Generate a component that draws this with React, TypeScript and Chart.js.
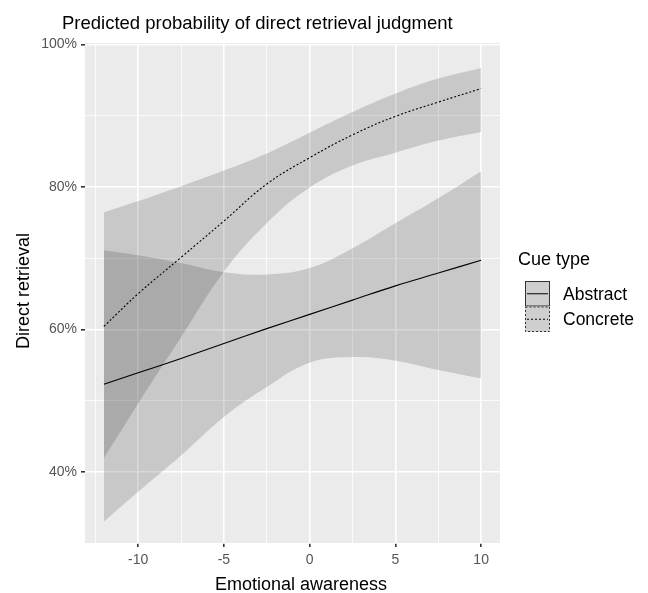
import { useEffect, useRef } from "react";
import { Chart, registerables } from "chart.js";

Chart.register(...registerables);

// ---- data (percent) ----
const X_VALUES = [-12, -10, -7.5, -5, -2.5, 0, 2.5, 5, 7.5, 10];
const ABSTRACT_FIT = [52.3, 53.9, 55.9, 58.0, 60.1, 62.1, 64.1, 66.1, 67.9, 69.7];
const ABSTRACT_UPPER = [71.1, 70.4, 69.3, 68.0, 67.7, 68.6, 71.4, 74.9, 78.4, 82.2];
const ABSTRACT_LOWER = [33.0, 37.2, 42.3, 47.7, 51.9, 55.3, 56.1, 55.6, 54.3, 53.1];
const CONCRETE_FIT = [60.4, 65.0, 70.1, 75.2, 80.4, 84.1, 87.3, 89.9, 91.9, 93.8];
const CONCRETE_UPPER = [76.4, 78.0, 80.1, 82.3, 84.7, 87.6, 90.5, 93.1, 95.2, 96.7];
const CONCRETE_LOWER = [41.9, 49.6, 58.9, 68.1, 74.9, 79.9, 83.0, 84.8, 86.5, 87.7];

const X_TICKS = [-12.5, -10, -7.5, -5, -2.5, 0, 2.5, 5, 7.5, 10];
const X_MAJOR = [-10, -5, 0, 5, 10];
const Y_TICKS = [30, 40, 50, 60, 70, 80, 90, 100];
const Y_MAJOR = [40, 60, 80, 100];

const TITLE = "Predicted probability of direct retrieval judgment";
const X_TITLE = "Emotional awareness";
const Y_TITLE = "Direct retrieval";
const LEGEND_TITLE = "Cue type";
const SERIES_NAMES = ["Abstract", "Concrete"];

const FONT = "'Liberation Sans', Arial, sans-serif";
const RIBBON = "rgba(0,0,0,0.15)";

const pts = (ys: number[]) => X_VALUES.map((x, i) => ({ x, y: ys[i] }));

const decorPlugin = {
  id: "decor",
  beforeDraw(chart: any) {
    const { ctx, chartArea: a } = chart;
    ctx.save();
    ctx.fillStyle = "#EBEBEB";
    ctx.fillRect(a.left, a.top, a.right - a.left, a.bottom - a.top);
    ctx.restore();
  },
  afterDraw(chart: any) {
    const { ctx } = chart;
    ctx.save();
    // title
    ctx.fillStyle = "#000";
    ctx.font = `18.5px ${FONT}`;
    ctx.textAlign = "left";
    ctx.textBaseline = "alphabetic";
    ctx.fillText(TITLE, 62, 28.5);
    ctx.font = `18px ${FONT}`;
    // x title
    ctx.textAlign = "center";
    ctx.fillText(X_TITLE, 301, 590);
    // y title
    ctx.save();
    ctx.translate(29, 291);
    ctx.rotate(-Math.PI / 2);
    ctx.textAlign = "center";
    ctx.fillText(Y_TITLE, 0, 0);
    ctx.restore();
    // legend
    ctx.textAlign = "left";
    ctx.fillText(LEGEND_TITLE, 518, 265);
    const keyX = 525;
    const keyW = 25;
    const keyH = 25.5;
    SERIES_NAMES.forEach((name, i) => {
      const top = 281 + i * keyH;
      ctx.fillStyle = "#cfcfcf";
      ctx.fillRect(keyX, top, keyW, keyH);
      ctx.strokeStyle = "#333";
      ctx.lineWidth = 1;
      ctx.setLineDash(i === 0 ? [] : [2, 2]);
      ctx.strokeRect(keyX + 0.5, top + 0.5, keyW - 1, keyH - 1);
      ctx.strokeStyle = "#000";
      ctx.beginPath();
      ctx.moveTo(keyX + 2, top + keyH / 2);
      ctx.lineTo(keyX + keyW - 2, top + keyH / 2);
      ctx.stroke();
      ctx.setLineDash([]);
      ctx.fillStyle = "#000";
      ctx.font = `17.5px ${FONT}`;
      ctx.textBaseline = "middle";
      ctx.fillText(name, 563, top + keyH / 2 + 1);
      ctx.textBaseline = "alphabetic";
    });
    ctx.restore();
  },
};

export default function App() {
  const ref = useRef<HTMLCanvasElement | null>(null);
  useEffect(() => {
    if (!ref.current) return;
    const common = { pointRadius: 0, borderWidth: 0, tension: 0.4 };
    const chart = new Chart(ref.current, {
      type: "line",
      data: {
        datasets: [
          { ...common, label: "Abstract upper", data: pts(ABSTRACT_UPPER), fill: "+1", backgroundColor: RIBBON, borderColor: "rgba(0,0,0,0)" },
          { ...common, label: "Abstract lower", data: pts(ABSTRACT_LOWER), fill: false, borderColor: "rgba(0,0,0,0)" },
          { ...common, label: "Concrete upper", data: pts(CONCRETE_UPPER), fill: "+1", backgroundColor: RIBBON, borderColor: "rgba(0,0,0,0)" },
          { ...common, label: "Concrete lower", data: pts(CONCRETE_LOWER), fill: false, borderColor: "rgba(0,0,0,0)" },
          { ...common, label: SERIES_NAMES[0], data: pts(ABSTRACT_FIT), fill: false, borderColor: "#000", borderWidth: 1.1 },
          { ...common, label: SERIES_NAMES[1], data: pts(CONCRETE_FIT), fill: false, borderColor: "#000", borderWidth: 1.1, borderDash: [2, 2] },
        ],
      },
      options: {
        responsive: false,
        animation: false,
        devicePixelRatio: 1,
        layout: { padding: { left: 0, top: 43, right: 148, bottom: 0 } },
        plugins: {
          legend: { display: false },
          tooltip: { enabled: false },
          title: { display: false },
        },
        scales: {
          x: {
            type: "linear",
            min: -13.1,
            max: 11.1,
            afterBuildTicks: (s: any) => {
              s.ticks = X_TICKS.map((v) => ({ value: v }));
            },
            afterFit: (s: any) => {
              s.height = 50;
            },
            border: { display: false },
            grid: {
              color: "#ffffff",
              lineWidth: (c: any) => (X_MAJOR.includes(c.tick?.value) ? 1.6 : 0.8),
              tickColor: (c: any) => (X_MAJOR.includes(c.tick?.value) ? "#333" : "rgba(0,0,0,0)"),
              tickLength: 4,
              drawTicks: true,
            },
            ticks: {
              autoSkip: false,
              maxRotation: 0,
              padding: 5,
              color: "#555",
              font: { size: 14, family: FONT },
              callback: (v: any) => (X_MAJOR.includes(Number(v)) ? String(v) : ""),
            },
          },
          y: {
            type: "linear",
            min: 30,
            max: 100.2,
            afterBuildTicks: (s: any) => {
              s.ticks = Y_TICKS.map((v) => ({ value: v }));
            },
            afterFit: (s: any) => {
              s.width = 85;
            },
            border: { display: false },
            grid: {
              color: "#ffffff",
              lineWidth: (c: any) => (Y_MAJOR.includes(c.tick?.value) ? 1.6 : 0.8),
              tickColor: (c: any) => (Y_MAJOR.includes(c.tick?.value) ? "#333" : "rgba(0,0,0,0)"),
              tickLength: 4,
              drawTicks: true,
            },
            ticks: {
              autoSkip: false,
              padding: 4,
              color: "#555",
              font: { size: 14, family: FONT },
              callback: (v: any) => (Y_MAJOR.includes(Number(v)) ? `${v}%` : ""),
            },
          },
        },
      },
      plugins: [decorPlugin],
    });
    return () => chart.destroy();
  }, []);
  return (
    <div style={{ position: "absolute", left: 0, top: 0, width: 648, height: 593, background: "#fff" }}>
      <canvas ref={ref} width={648} height={593} style={{ display: "block", width: 648, height: 593 }} />
    </div>
  );
}
